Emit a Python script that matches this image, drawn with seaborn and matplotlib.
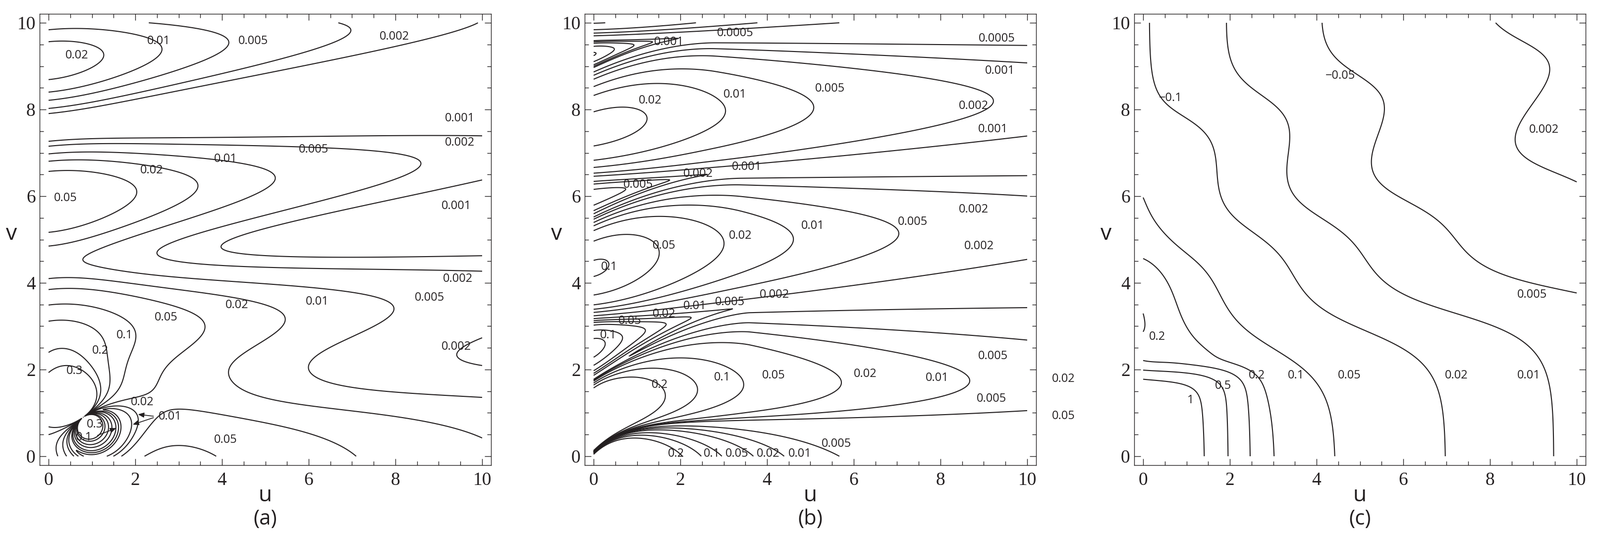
import numpy as np
import matplotlib
matplotlib.use("Agg")
import matplotlib.pyplot as plt
import seaborn as sns

# ---------------- data ----------------
levels_a = [0.001, 0.002, 0.005, 0.01, 0.02, 0.05, 0.1, 0.2, 0.3]
levels_b = [0.0005, 0.001, 0.002, 0.005, 0.01, 0.02, 0.05, 0.1, 0.2]
levels_c = [0.002, 0.005, 0.01, 0.02, 0.05, 0.1, 0.2, 0.5, 1.0]
ticks = [0, 2, 4, 6, 8, 10]
panel_tags = ["(a)", "(b)", "(c)"]

# contour labels as printed next to the curves
text_a = ["0.02", "0.01", "0.005", "0.002", "0.001", "0.002", "0.005", "0.01",
          "0.02", "0.05", "0.001", "0.002", "0.005", "0.01", "0.02", "0.05",
          "0.1", "0.2", "0.3", "0.002", "0.02", "0.01", "0.3", "0.1", "0.05"]
text_b = ["0.0005", "0.001", "0.0005", "0.001", "0.005", "0.01", "0.02", "0.002",
          "0.001", "0.001", "0.002", "0.005", "0.002", "0.005", "0.01", "0.02",
          "0.05", "0.002", "0.1", "0.002", "0.005", "0.01", "0.02", "0.05", "0.1",
          "0.005", "0.2", "0.1", "0.05", "0.02", "0.01", "0.005", "0.005",
          "0.2", "0.1", "0.05", "0.02", "0.01", "0.02", "0.05"]
text_c = ["\u22120.1", "\u22120.05", "0.002", "0.005", "0.2", "0.2", "0.1",
          "0.05", "0.02", "0.01", "0.5", "1"]

# where those labels sit, in (u, v)
pos_a = [(0.65, 9.25), (2.54, 9.58), (4.72, 9.58), (7.98, 9.68), (9.49, 7.80),
         (9.49, 7.23), (6.11, 7.07), (4.08, 6.86), (2.38, 6.60), (0.39, 5.96),
         (9.41, 5.77), (9.44, 4.09), (8.79, 3.66), (6.20, 3.56), (4.35, 3.48),
         (2.71, 3.20), (1.76, 2.79), (1.19, 2.43), (0.60, 1.97), (9.41, 2.53),
         (2.16, 1.25), (2.80, 0.91), (1.07, 0.73), (0.82, 0.43), (4.08, 0.38)]
pos_b = [(3.27, 9.76), (1.74, 9.56), (9.30, 9.64), (9.37, 8.89), (5.45, 8.48),
         (3.26, 8.34), (1.31, 8.21), (8.77, 8.08), (9.21, 7.54), (3.53, 6.67),
         (2.41, 6.52), (1.03, 6.26), (8.77, 5.69), (7.36, 5.41), (5.05, 5.32),
         (3.38, 5.09), (1.62, 4.86), (8.89, 4.84), (0.36, 4.37), (4.17, 3.72),
         (3.14, 3.55), (2.34, 3.46), (1.63, 3.28), (0.84, 3.12), (0.34, 2.79),
         (9.21, 2.31), (1.52, 1.64), (2.97, 1.82), (4.15, 1.86), (6.26, 1.90),
         (7.92, 1.80), (9.18, 1.33), (5.60, 0.28), (1.90, 0.06), (2.73, 0.06),
         (3.30, 0.06), (4.03, 0.06), (4.76, 0.06), (10.84, 1.78), (10.84, 0.93)]
pos_c = [(0.63, 8.26), (4.55, 8.78), (9.24, 7.53), (8.97, 3.72), (0.32, 2.75),
         (2.62, 1.86), (3.53, 1.86), (4.76, 1.86), (7.23, 1.86), (8.89, 1.86),
         (1.85, 1.62), (1.09, 1.29)]


# ---------------- model surfaces behind the contours ----------------
def sig(z):
    return 1.0 / (1.0 + np.exp(-z))


def band(V, lo, hi, q=1.0):
    w = hi - lo
    t = np.clip((V - lo) / np.maximum(w, 1e-9), 0, 1)
    inside = (V > lo) & (V < hi) & (w > 1e-6)
    return np.where(inside, np.sin(np.pi * t ** q) ** 2, 0.0)


def field_a(U, V):
    vp = V - 0.1 * U
    P = 0.12 + 0.67 * np.exp(-0.3 * vp)
    Q = (0.16 - 0.06 * sig((0.2 - vp) / 0.3)
         - 0.16 * np.exp(-((vp - 1.3) / 0.8) ** 2) * np.exp(-U / 3.5))
    psi = P + Q * np.cos(2 * np.pi * (vp + 0.45) / 3.2)
    du, dv = U - 0.8, V - 0.9
    r2 = du ** 2 + dv ** 2 + 1e-6
    al = np.deg2rad(126)
    psi = psi + 1.15 * (du * np.cos(al) + dv * np.sin(al)) / r2 * np.exp(-r2 / 3.5)
    return (psi ** 2 + 0.03 * np.exp(-r2 / 1.5)) / (U ** 2 + 3.6)


def field_b(U, V):
    z1 = 0.1 + 0.7 * (1 - np.exp(-U / 0.7))
    z0 = z1 - 2.3
    z3 = 3.2 + 0.07 * U
    t1 = np.clip(1 - U / 3.6, 0, None)
    z2 = z3 - 1.4 * t1 ** 1.5
    z5 = 6.4 + 0.05 * U
    t2 = np.clip(1 - U / 3.4, 0, None)
    z4 = z5 - 0.85 * t2 ** 1.8
    z7 = 9.62 + 0.03 * U
    t3 = np.clip(1 - U / 2.8, 0, None)
    z6 = z7 - 0.68 * t3 ** 1.8
    z8 = z7 + 3.0
    u2 = U ** 2
    f = (6.7 * np.exp(-0.856 * U) * band(V, z0, z1) / (u2 + 0.2)
         + 0.58 * band(V, z1, z2, 0.62) / (u2 + 0.2)
         + 0.05 * t1 * band(V, z2, z3) / (u2 + 0.4)
         + 0.21 * band(V, z3, z4, 0.95) / (u2 + 2.0)
         + 0.014 * t2 * band(V, z4, z5) / (u2 + 2.0)
         + 0.145 * band(V, z5, z6, 0.87) / (u2 + 5.9)
         + 0.003 * t3 * band(V, z6, z7) / (u2 + 0.3)
         + 0.2 * band(V, z7, z8) / (u2 + 6.0))
    return f + 0.003 * np.exp(-0.27 * (V - 0.8))


def field_c(U, V):
    x = V - 0.2 * U + 0.5 * np.exp(-U)
    edge = (-0.5 * np.exp(-((V - 2.4) / 0.35) ** 2)
            + 0.27 * np.exp(-((V - 4.1) / 1.0) ** 2)) * np.exp(-(U / 0.6) ** 2)
    G = (-0.1 - 1.55 * sig((x - 2.0) / 0.6) - 1.35 * sig((x - 4.75) / 0.5)
         - 0.85 * sig((x - 7.75) / 0.45) + edge)
    u0 = 2.8 + 4.2 * sig((x - 6.5) / 1.2)
    base = np.exp(G - 3.05 * np.log1p(U / u0))
    bump = 1.1 * np.exp(-((U / 1.85) ** 3.5 + (V / 1.9) ** 10))
    return base + bump


# ---------------- drawing ----------------
sns.set_theme(style="ticks")
plt.rcParams["font.family"] = ["Open Sans", "DejaVu Sans"]
ink = "#231f20"

fig = plt.figure(figsize=(32.3, 10.84), dpi=100)
W, H = 3230.0, 1084.0
lefts = [80, 1180, 2289]
g = np.linspace(0, 10, 1001)
U, V = np.meshgrid(g, g)

panels = [(field_a, levels_a, text_a, pos_a),
          (field_b, levels_b, text_b, pos_b),
          (field_c, levels_c, text_c, pos_c)]

for k, (func, levels, texts, poss) in enumerate(panels):
    ax = fig.add_axes([lefts[k] / W, 1 - 939 / H, 911 / W, 911 / H])
    ax.contour(U, V, func(U, V), levels=levels, colors=ink, linewidths=1.5)
    ax.set_xlim(-0.206, 10.206)
    ax.set_ylim(-0.206, 10.206)
    ax.set_xticks(ticks)
    ax.set_yticks(ticks)
    ax.set_xticks(np.arange(0, 10.01, 0.5), minor=True)
    ax.set_yticks(np.arange(0, 10.01, 0.5), minor=True)
    ax.tick_params(which="both", direction="in", top=True, right=True,
                   color=ink, width=1.0)
    ax.tick_params(which="major", length=9.5)
    ax.tick_params(which="minor", length=5.5)
    ax.tick_params(axis="x", pad=10)
    ax.tick_params(axis="y", pad=6)
    for lab in ax.get_xticklabels() + ax.get_yticklabels():
        lab.set_family("Liberation Serif")
        lab.set_fontsize(27)
        lab.set_color(ink)
    for sp in ax.spines.values():
        sp.set_linewidth(1.0)
        sp.set_color(ink)
    for t, (pu, pv) in zip(texts, poss):
        ax.text(pu, pv, t, fontsize=17, ha="center", va="center", color=ink,
                clip_on=False)
    xc = (lefts[k] + 455.5) / W
    fig.text(xc, 1 - 1001 / H, "u", fontsize=32, ha="center", va="center", color=ink)
    fig.text(xc, 1 - 1048 / H, panel_tags[k], fontsize=30, ha="center", va="center",
             color=ink)
    fig.text((lefts[k] - 57) / W, 1 - 473 / H, "v", fontsize=32, ha="center",
             va="center", color=ink)

# pointer arrows in panel (a)
ax_a = fig.axes[0]
arrow = dict(arrowstyle="-|>,head_length=0.6,head_width=0.25", color=ink, lw=1.2)
ax_a.annotate("", xy=(1.59, 0.66), xytext=(1.1, 0.47), arrowprops=arrow)
ax_a.annotate("", xy=(2.03, 0.97), xytext=(2.45, 0.92), arrowprops=arrow)
ax_a.annotate("", xy=(1.91, 0.72), xytext=(2.45, 0.90), arrowprops=arrow)

fig.savefig("out.png", dpi=100, facecolor="white")
